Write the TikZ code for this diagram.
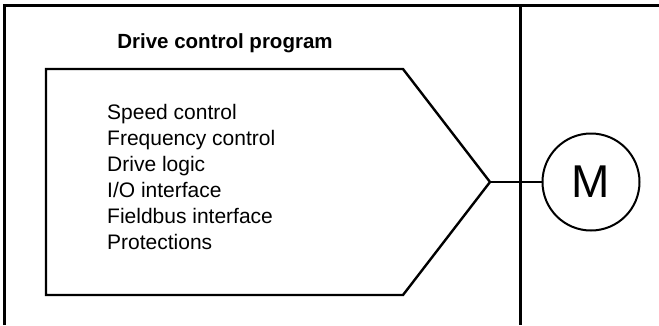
\documentclass[tikz,border=0pt]{standalone}
\usepackage{fontspec}
\setmainfont{Liberation Sans}
\usepackage{tikz}
\usetikzlibrary{positioning,calc}
\tikzset{
  frame/.style={line width=3pt},
  prog/.style={line width=2.4pt, line join=miter},
  wire/.style={line width=2pt},
  ttl/.style={font=\fontsize{20.5}{24}\selectfont\bfseries, inner sep=0pt, anchor=base},
  funcs/.style={font=\fontsize{21}{26}\selectfont, align=left, inner sep=0pt, anchor=base west},
  motor/.style={draw, circle, line width=2pt, minimum size=97pt, inner sep=0pt, font=\fontsize{46}{46}\selectfont}
}

\begin{document}
\begin{tikzpicture}[x=1pt, y=-1pt]
\useasboundingbox (0,0) rectangle (659,325);
% frame and divider
\draw[frame] (4,325) -- (4,5.5) -- (659,5.5);
\draw[frame] (520,5.5) -- (520,325);
\node[ttl] (title) at (225,48) {Drive control program};
% program block
\coordinate (pnw) at (46,69);
\coordinate (pne) at (403,69);
\coordinate (tip) at (490,182);
\coordinate (pse) at (403,295);
\coordinate (psw) at (46,295);
\draw[prog] (pnw) -- (pne) -- (tip) -- (pse) -- (psw) -- cycle;
\node[funcs] (list) at (107,249) {Speed control\\Frequency control\\Drive logic\\I/O interface\\Fieldbus interface\\Protections};
% motor
\node[motor] (motor) at (591,182) {M};
\draw[wire] (tip) -- (motor);
\end{tikzpicture}
\end{document}
